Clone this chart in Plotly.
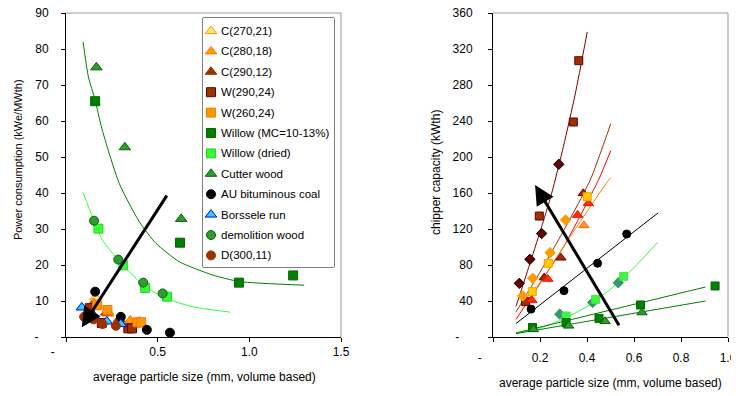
import plotly.graph_objects as go

# ---------------- Left chart: power consumption ----------------
C270_x = [0.16, 0.23, 0.40]
C270_y = [11.0, 7.0, 4.0]
C280_x = [0.15, 0.23, 0.35, 0.40]
C280_y = [9.5, 6.5, 4.6, 4.3]
C290_x = [0.14, 0.22, 0.29, 0.38]
C290_y = [8.5, 6.8, 5.0, 3.5]
W290_x = [0.13, 0.195, 0.34, 0.36]
W290_y = [8.0, 3.9, 2.4, 2.4]
W260_x = [0.17, 0.226, 0.39, 0.41]
W260_y = [8.8, 7.5, 4.1, 4.1]
WMC_x = [0.159, 0.622, 0.943, 1.239]
WMC_y = [65.5, 26.2, 15.1, 17.1]
WDRY_x = [0.177, 0.312, 0.432, 0.551]
WDRY_y = [30.1, 19.9, 13.6, 11.2]
CUT_x = [0.166, 0.321, 0.628]
CUT_y = [74.9, 52.7, 32.8]
AU_x = [0.159, 0.299, 0.441, 0.567]
AU_y = [12.6, 5.6, 2.0, 1.2]
BOR_x = [0.086, 0.148, 0.223, 0.299]
BOR_y = [8.2, 6.1, 4.3, 3.6]
DEM_x = [0.153, 0.285, 0.421, 0.527]
DEM_y = [32.3, 21.5, 15.1, 12.1]
D300_x = [0.099, 0.149, 0.199, 0.272]
D300_y = [5.6, 4.9, 3.6, 3.1]

# trend curves
TR_MC_x = [0.093, 0.122, 0.159, 0.195, 0.290, 0.400, 0.491, 0.618, 0.801, 0.947, 1.299]
TR_MC_y = [82.0, 72.3, 65.8, 58.0, 42.7, 32.0, 26.0, 20.9, 17.2, 15.4, 14.4]
TR_DRY_x = [0.093, 0.144, 0.199, 0.285, 0.327, 0.427, 0.546, 0.691, 0.896]
TR_DRY_y = [40.1, 33.4, 26.9, 21.4, 19.1, 14.2, 10.7, 8.4, 6.9]

ARROW_L = dict(tail=(0.555, 39.7), head=(0.086, 2.7))

# ---------------- Right chart: chipper capacity ----------------
R_DD_x = [0.112, 0.157, 0.207, 0.280]
R_DD_y = [59.6, 86.3, 115.0, 191.9]
R_W290_x = [0.139, 0.197, 0.342, 0.365]
R_W290_y = [39.3, 134.4, 238.9, 307.0]
R_C290_x = [0.218, 0.289, 0.384]
R_C290_y = [66.0, 88.0, 159.6]
R_C280_x = [0.165, 0.233, 0.360, 0.406]
R_C280_y = [41.0, 64.4, 135.5, 148.5]
R_C270_x = [0.387]
R_C270_y = [124.0]
R_W260_x = [0.167, 0.235, 0.401]
R_W260_y = [50.4, 81.9, 155.9]
R_OD_x = [0.126, 0.169, 0.243, 0.309]
R_OD_y = [45.6, 65.2, 93.7, 130.0]
R_AU_x = [0.162, 0.302, 0.445, 0.569]
R_AU_y = [31.0, 51.5, 81.9, 114.4]
R_TD_x = [0.284, 0.424, 0.533]
R_TD_y = [25.4, 38.3, 60.3]
R_WDRY_x = [0.311, 0.437, 0.556]
R_WDRY_y = [23.3, 41.9, 67.4]
R_WMC_x = [0.168, 0.311, 0.451, 0.628, 0.945]
R_WMC_y = [10.6, 16.0, 20.7, 35.6, 56.7]
R_CUT_x = [0.172, 0.322, 0.477, 0.634]
R_CUT_y = [8.5, 12.4, 17.4, 27.2]

RL_DD_x = [0.098, 0.16, 0.21, 0.25, 0.30, 0.35, 0.401]
RL_DD_y = [34.0, 84.0, 125.0, 160.0, 212.0, 270.0, 339.0]
RL_BR_x = [0.098, 0.20, 0.30, 0.413, 0.501]
RL_BR_y = [28.0, 72.0, 118.0, 174.0, 237.0]
RL_RD_x = [0.098, 0.20, 0.30, 0.448, 0.501]
RL_RD_y = [19.6, 60.0, 100.0, 174.0, 207.0]
RL_OR_x = [0.157, 0.25, 0.35, 0.491, 0.501]
RL_OR_y = [41.0, 80.0, 120.0, 174.0, 177.0]
RL_AU_x = [0.098, 0.703]
RL_AU_y = [15.0, 138.0]
RL_DRY_x = [0.10, 0.20, 0.30, 0.40, 0.50, 0.60, 0.70]
RL_DRY_y = [4.0, 10.0, 20.0, 34.0, 53.0, 77.0, 105.0]
RL_G1_x = [0.098, 0.904]
RL_G1_y = [4.5, 55.5]
RL_G2_x = [0.098, 0.904]
RL_G2_y = [3.8, 40.0]

ARROW_R = dict(tail=(0.540, 11.5), head=(0.179, 168.9))

NB = "\u00a0"
LEFT_XTICKS = [0, 0.5, 1.0, 1.5]
LEFT_XTEXT = ["-" + NB * 8, "0.5", "1.0", "1.5"]
LEFT_YTICKS = [0, 10, 20, 30, 40, 50, 60, 70, 80, 90]
LEFT_YTEXT = ["-" + NB * 3] + [str(v) for v in LEFT_YTICKS[1:]]
RIGHT_XTICKS = [0, 0.2, 0.4, 0.6, 0.8, 1.0]
RIGHT_XTEXT = ["-" + NB * 8, "0.2", "0.4", "0.6", "0.8", "1.0"]
RIGHT_YTICKS = [0, 40, 80, 120, 160, 200, 240, 280, 320, 360]
RIGHT_YTEXT = ["-" + NB * 4] + [str(v) for v in RIGHT_YTICKS[1:]]

FONT = "Liberation Sans, Arial, sans-serif"
W, H = 739, 396
OFF = 8  # page body margin offset


def PX(px):
    return (px - OFF) / W


def PY(py):
    return 1 - (py - OFF) / H


fig = go.Figure()

LEG_ENTRIES = []  # (name, symbol, fill, edge, size)


def pts(x, y, name, symbol, fill, edge, size=9, xa="x", ya="y", legend=True, ew=1):
    fig.add_trace(go.Scatter(
        x=x, y=y, mode="markers", name=name, xaxis=xa, yaxis=ya, showlegend=False,
        marker=dict(symbol=symbol, size=size, color=fill, line=dict(color=edge, width=ew)),
    ))
    if legend:
        LEG_ENTRIES.append((name, symbol, fill, edge, size))


def line(x, y, color, xa="x", ya="y", width=1):
    fig.add_trace(go.Scatter(
        x=x, y=y, mode="lines", xaxis=xa, yaxis=ya, showlegend=False,
        line=dict(color=color, width=width, shape="spline", smoothing=0.6),
        hoverinfo="skip",
    ))


# left trend curves
line(TR_MC_x, TR_MC_y, "#008000")
line(TR_DRY_x, TR_DRY_y, "#33ff33")

# left points
pts(C270_x, C270_y, "C(270,21)", "triangle-up", "#ffe680", "#ff9900", 10)
pts(C280_x, C280_y, "C(280,18)", "triangle-up", "#ff9900", "#ff7700", 10)
pts(C290_x, C290_y, "C(290,12)", "triangle-up", "#993300", "#993300", 10)
pts(W290_x, W290_y, "W(290,24)", "square", "#993300", "#660000", 9)
pts(W260_x, W260_y, "W(260,24)", "square", "#ff9900", "#ff7700", 9)
pts(WMC_x, WMC_y, "Willow (MC=10-13%)", "square", "#008000", "#006600", 9)
pts(WDRY_x, WDRY_y, "Willow (dried)", "square", "#33ff33", "#33cc33", 9)
pts(CUT_x, CUT_y, "Cutter wood", "triangle-up", "#339933", "#006600", 10)
pts(AU_x, AU_y, "AU bituminous coal", "circle", "#000000", "#000000", 9)
pts(BOR_x, BOR_y, "Borssele run", "triangle-up", "#33ccff", "#0000ff", 10)
pts(DEM_x, DEM_y, "demolition wood", "circle", "#339933", "#006600", 9)
pts(D300_x, D300_y, "D(300,11)", "circle", "#993300", "#993300", 9)

# right trend lines
line(RL_DD_x, RL_DD_y, "#800000", "x2", "y2")
line(RL_BR_x, RL_BR_y, "#993300", "x2", "y2")
line(RL_RD_x, RL_RD_y, "#ff0000", "x2", "y2")
line(RL_OR_x, RL_OR_y, "#ff8000", "x2", "y2")
line(RL_AU_x, RL_AU_y, "#000000", "x2", "y2")
line(RL_DRY_x, RL_DRY_y, "#33ff33", "x2", "y2")
line(RL_G1_x, RL_G1_y, "#008000", "x2", "y2")
line(RL_G2_x, RL_G2_y, "#008000", "x2", "y2")

# right points
pts(R_DD_x, R_DD_y, "D dark", "diamond", "#660000", "#000000", 8, "x2", "y2", False)
pts(R_W290_x, R_W290_y, "W(290,24)", "square", "#993300", "#660000", 8, "x2", "y2", False)
pts(R_C290_x, R_C290_y, "C(290,12)", "triangle-up", "#993300", "#660000", 9, "x2", "y2", False)
pts(R_C280_x, R_C280_y, "C(280,18)", "triangle-up", "#ff3300", "#ff0000", 9, "x2", "y2", False)
pts(R_C270_x, R_C270_y, "C(270,21)", "triangle-up", "#ff9933", "#ff6600", 9, "x2", "y2", False)
pts(R_W260_x, R_W260_y, "W(260,24)", "square", "#ffcc00", "#ff9900", 8, "x2", "y2", False)
pts(R_OD_x, R_OD_y, "orange", "diamond", "#ff9900", "#ff9900", 8, "x2", "y2", False)
pts(R_AU_x, R_AU_y, "AU", "circle", "#000000", "#000000", 8, "x2", "y2", False)
pts(R_TD_x, R_TD_y, "demolition", "diamond", "#339966", "#339966", 8, "x2", "y2", False)
pts(R_WDRY_x, R_WDRY_y, "Willow (dried)", "square", "#33ff33", "#66cc66", 8, "x2", "y2", False)
pts(R_WMC_x, R_WMC_y, "Willow MC", "square", "#008000", "#006600", 8, "x2", "y2", False)
pts(R_CUT_x, R_CUT_y, "Cutter", "triangle-up", "#339933", "#006600", 9, "x2", "y2", False)

# ---- legend box (left chart), drawn on a hidden pixel-unit axis ----
LEG_LEFT, LEG_TOP, LEG_RIGHT, LEG_BOTTOM = 203, 18, 334, 267
LEG_ROW0, LEG_STEP, LEG_SYM_X, LEG_TXT_X = 13, 20.4, 8, 16
leg_w, leg_h = LEG_RIGHT - LEG_LEFT, LEG_BOTTOM - LEG_TOP
for i, (name, symbol, fill, edge, size) in enumerate(LEG_ENTRIES):
    fig.add_trace(go.Scatter(
        x=[LEG_SYM_X], y=[LEG_ROW0 + LEG_STEP * i], mode="markers", xaxis="x3", yaxis="y3",
        showlegend=False, hoverinfo="skip",
        marker=dict(symbol=symbol, size=size, color=fill, line=dict(color=edge, width=1)),
    ))

axis_common = dict(showline=True, linecolor="black", linewidth=1, ticks="outside",
                   ticklen=4, tickcolor="black", showgrid=False, zeroline=False,
                   automargin=False, ticklabeloverflow="allow",
                   tickfont=dict(family=FONT, size=12, color="black"))

yd = [PY(337), PY(13)]
fig.update_layout(
    width=W, height=H, margin=dict(l=0, r=0, t=0, b=0, autoexpand=False),
    paper_bgcolor="white", plot_bgcolor="white",
    font=dict(family=FONT, size=12, color="black"),
    xaxis=dict(domain=[PX(66), PX(341)], range=[0, 1.5], tickmode="array",
               tickvals=LEFT_XTICKS, ticktext=LEFT_XTEXT, anchor="y",
               ticklabelstandoff=0, **axis_common),
    yaxis=dict(domain=yd, range=[0, 90], tickmode="array", tickvals=LEFT_YTICKS,
               ticktext=LEFT_YTEXT, anchor="x", ticklabelstandoff=10, **axis_common),
    xaxis2=dict(domain=[PX(493), PX(728)], range=[0, 1.0], tickmode="array",
                tickvals=RIGHT_XTICKS, ticktext=RIGHT_XTEXT, anchor="y2",
                ticklabelstandoff=6, **axis_common),
    yaxis2=dict(domain=yd, range=[0, 360], tickmode="array", tickvals=RIGHT_YTICKS,
                ticktext=RIGHT_YTEXT, anchor="x2", ticklabelstandoff=13, **axis_common),
    xaxis3=dict(domain=[PX(LEG_LEFT), PX(LEG_RIGHT)], range=[0, leg_w], visible=False,
                anchor="y3", fixedrange=True),
    yaxis3=dict(domain=[PY(LEG_BOTTOM), PY(LEG_TOP)], range=[leg_h, 0], visible=False,
                anchor="x3", fixedrange=True),
    showlegend=False,
)

# gray frame (top and right) of each plot area
for xr, yr in (("x domain", "y domain"), ("x2 domain", "y2 domain")):
    fig.add_shape(type="line", xref=xr, yref=yr, x0=0, x1=1, y0=1, y1=1,
                  line=dict(color="#999999", width=1))
    fig.add_shape(type="line", xref=xr, yref=yr, x0=1, x1=1, y0=0, y1=1,
                  line=dict(color="#999999", width=1))
# legend frame
fig.add_shape(type="rect", xref="x3 domain", yref="y3 domain", x0=0, x1=1, y0=0, y1=1,
              line=dict(color="black", width=1), fillcolor="white", layer="below")

ann = []
for i, (name, *_rest) in enumerate(LEG_ENTRIES):
    ann.append(dict(text=name, x=LEG_TXT_X, y=LEG_ROW0 + LEG_STEP * i, xref="x3", yref="y3",
                    xanchor="left", yanchor="middle", showarrow=False,
                    font=dict(family=FONT, size=11.5, color="black")))

for arr, xr, yr in ((ARROW_L, "x", "y"), (ARROW_R, "x2", "y2")):
    ann.append(dict(x=arr["head"][0], y=arr["head"][1], ax=arr["tail"][0], ay=arr["tail"][1],
                    xref=xr, yref=yr, axref=xr, ayref=yr, text="", showarrow=True,
                    arrowhead=2, arrowsize=1.3, arrowwidth=3, arrowcolor="black"))

# axis titles
common_t = dict(xref="paper", yref="paper", showarrow=False, xanchor="center", yanchor="middle")
ann.append(dict(text="average particle size (mm, volume based)", x=PX(204), y=PY(377),
                font=dict(size=12), **common_t))
ann.append(dict(text="average particle size (mm, volume based)", x=PX(610), y=PY(383),
                font=dict(size=12), **common_t))
ann.append(dict(text="Power consumption (kWe/MWth)", x=PX(18), y=PY(160), textangle=-90,
                font=dict(size=11), **common_t))
ann.append(dict(text="chipper capacity (kWth)", x=PX(436), y=PY(173), textangle=-90,
                font=dict(size=12), **common_t))
fig.update_layout(annotations=ann)

fig.write_html("out.html")
